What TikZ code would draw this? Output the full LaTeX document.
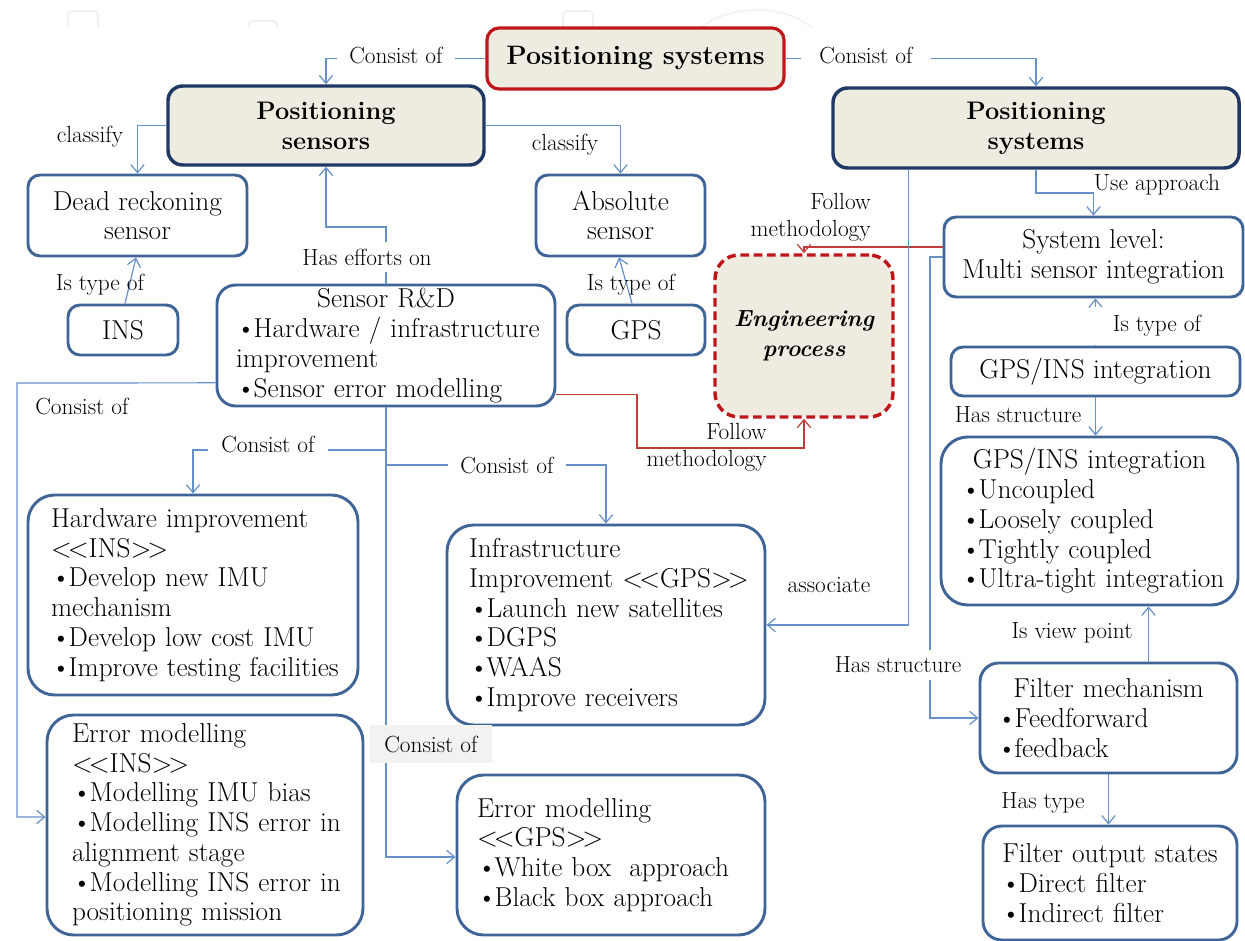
\documentclass[tikz,border=0pt]{standalone}
\usetikzlibrary{arrows.meta}
\definecolor{cblue}{HTML}{6690C8}
\definecolor{bborder}{HTML}{3F6497}
\definecolor{navy}{HTML}{1F3864}
\definecolor{beige}{HTML}{EEECE1}
\definecolor{cred}{HTML}{C0161B}
\definecolor{lred}{HTML}{C23A3A}
\definecolor{lgrey}{HTML}{F2F2F2}
\newcommand\bul{\textbullet\kern-1.5pt}
\newcommand\lguil{<\kern-3pt<}
\newcommand\rguil{>\kern-3pt>}
\begin{document}
\begin{tikzpicture}[x=0.75pt, y=-0.75pt,
  sbox/.style={draw=bborder, line width=2.2pt, rounded corners=9pt, fill=white, inner sep=0pt, align=center, font=\fontsize{20.5}{22.3}\selectfont},
  lbox/.style={sbox, rounded corners=20pt, align=left},
  headbox/.style={sbox, fill=beige, draw=navy, line width=2.6pt, rounded corners=11pt, font=\bfseries\fontsize{19}{22.5}\selectfont},
  titlebox/.style={sbox, fill=beige, draw=cred, line width=2.4pt, rounded corners=9pt, font=\bfseries\fontsize{20}{24}\selectfont},
  engbox/.style={sbox, fill=beige, draw=cred, line width=2.6pt, dash pattern=on 6.5pt off 3.5pt, rounded corners=18pt, font=\bfseries\itshape\fontsize{17.5}{22.5}\selectfont},
  conn/.style={draw=cblue, line width=0.9pt, -{Straight Barb[length=6pt,width=10pt]}},
  rconn/.style={draw=lred, line width=0.9pt, -{Straight Barb[length=6pt,width=10pt]}},
  lab/.style={font=\fontsize{17.5}{20}\selectfont, inner sep=1.5pt},
  labw/.style={lab, fill=white, inner xsep=6pt}
]
\useasboundingbox (0,0) rectangle (1245,941);

% faint background marks
\draw[gray!12, line width=1.5pt, rounded corners=3pt] (68,27) -- (68,11) -- (98,11) -- (98,27);
\draw[gray!12, line width=1.5pt, rounded corners=3pt] (249,27) -- (249,21) -- (277,21) -- (277,27);
\draw[gray!12, line width=1.5pt, rounded corners=3pt] (563,27) -- (563,11) -- (593,11) -- (593,27);
\draw[gray!10, line width=1.2pt] (700,28) .. controls (730,4) and (785,4) .. (812,28);

% ---------- boxes ----------
\node[titlebox, minimum width=222.75pt, minimum height=45.75pt] (title) at (635.5,58.5) {Positioning systems};
\node[headbox, minimum width=237pt, minimum height=59.25pt] (sens) at (326,125.5) {Positioning\\sensors};
\node[headbox, minimum width=304.5pt, minimum height=60pt] (psys) at (1036,128) {Positioning\\systems};
\node[sbox, minimum width=164.25pt, minimum height=60.75pt] (dr) at (137.5,215.5) {Dead reckoning\\sensor};
\node[sbox, minimum width=126.75pt, minimum height=60.75pt] (abs) at (620.5,215.5) {Absolute\\sensor};
\node[sbox, minimum width=82.5pt, minimum height=37.5pt] (ins) at (123,330) {INS};
\node[sbox, minimum width=103.5pt, minimum height=37.5pt] (gps) at (636,330) {GPS};
\node[sbox, rounded corners=14pt, align=left, text width=225pt, inner xsep=14.25pt, minimum width=253.5pt, minimum height=90.75pt] (rd) at (386,345.5)
  {\makebox[\linewidth]{Sensor R\&D}\\ \mbox{\bul Hardware / infrastructure}\\ \mbox{improvement}\\ \mbox{\bul Sensor error modelling}};
\node[engbox, minimum width=133.5pt, minimum height=121.5pt] (eng) at (804,336) {Engineering\\process};
\node[sbox, minimum width=224.25pt, minimum height=60pt] (sys) at (1093.5,257) {System level:\\Multi sensor integration};
\node[sbox, minimum width=216.75pt, minimum height=36.75pt] (gi1) at (1095.5,371.5) {GPS/INS integration};
\node[lbox, text width=192.75pt, inner xsep=15pt, minimum width=222.75pt, minimum height=126pt] (gi2) at (1089.5,521)
  {\makebox[\linewidth]{GPS/INS integration}\\ \mbox{\bul Uncoupled}\\ \mbox{\bul Loosely coupled}\\ \mbox{\bul Tightly coupled}\\ \mbox{\bul Ultra-tight integration}};
\node[sbox, rounded corners=14pt, align=left, text width=167.25pt, inner xsep=12.75pt, minimum width=192.75pt, minimum height=82.5pt] (fm) at (1108.5,718)
  {\makebox[\linewidth]{Filter mechanism}\\ \mbox{\bul Feedforward}\\ \mbox{\bul feedback}};
\node[sbox, rounded corners=14pt, align=left, text width=163.5pt, inner xsep=13.5pt, minimum width=190.5pt, minimum height=85.5pt] (fo) at (1110,883)
  {\makebox[\linewidth]{Filter output states}\\ \mbox{\bul Direct filter}\\ \mbox{\bul Indirect filter}};
\node[lbox, text width=213pt, inner xsep=17.25pt, minimum width=247.5pt, minimum height=150pt] (hw) at (193,595)
  {\mbox{Hardware improvement}\\ \mbox{\lguil INS\rguil}\\ \mbox{\bul Develop new IMU}\\ \mbox{mechanism}\\ \mbox{\bul Develop low cost IMU}\\ \mbox{\bul Improve testing facilities}};
\node[lbox, text width=199.5pt, inner xsep=18.75pt, minimum width=237pt, minimum height=165pt] (emi) at (205,825)
  {\mbox{Error modelling}\\ \mbox{\lguil INS\rguil}\\ \mbox{\bul Modelling IMU bias}\\ \mbox{\bul Modelling INS error in}\\ \mbox{alignment stage}\\ \mbox{\bul Modelling INS error in}\\ \mbox{positioning mission}};
\node[lbox, text width=205.5pt, inner xsep=16.5pt, minimum width=238.5pt, minimum height=150pt] (inf) at (606,625)
  {\mbox{Infrastructure}\\ \mbox{Improvement \lguil GPS\rguil}\\ \mbox{\bul Launch new satellites}\\ \mbox{\bul DGPS}\\ \mbox{\bul WAAS}\\ \mbox{\bul Improve receivers}};
\node[lbox, text width=201pt, inner xsep=15pt, minimum width=231pt, minimum height=120pt] (emg) at (611,855)
  {\mbox{Error modelling}\\ \mbox{\lguil GPS\rguil}\\ \mbox{\bul White box~~approach}\\ \mbox{\bul Black box approach}};

% ---------- bend coordinates ----------
\coordinate (b1) at (325,227);
\coordinate (c1) at (17,383);
\coordinate (c2) at (300,450);
\coordinate (c3) at (500,465);
\coordinate (c4) at (1060,193);
\coordinate (c5) at (930,500);
\coordinate (r1) at (637,448);

% ---------- connectors ----------
\draw[conn] (title.west) -| (sens.north);
\draw[conn] (title.east) -| (psys.north);
\draw[conn] (sens.west) -| (dr.north);
\draw[conn] (sens.east) -| (abs.north);
\draw[conn] ([xshift=1.5pt]ins.north) -- ([xshift=-1.1pt]dr.south);
\draw[conn] ([xshift=-3pt]gps.north) -- ([xshift=-1.1pt]abs.south);
\draw[conn] (rd.north) |- (b1) -| (sens.south);
\draw[conn] ([yshift=-28pt]rd.west) -- (c1) |- ([yshift=6pt]emi.west);
\draw[conn] (rd.south) |- (c2) -| (hw.north);
\draw[conn] (rd.south) |- (c3) -| (inf.north);
\draw[conn] (rd.south) |- ([yshift=-1.5pt]emg.west);
\draw[rconn] ([yshift=-36.5pt]rd.east) -| (r1) -| (eng.south);
\draw[rconn] ([yshift=7.5pt]sys.west) -| (eng.north);
\draw[conn] (psys.south) |- (c4) -| (sys.north);
\draw[conn] ([xshift=57.75pt]psys.south west) |- (inf.east);
\draw[conn] (sys.west) -| (c5) |- (fm.west);
\draw[conn] (gi1.north) -- (gi1.north |- sys.south);
\draw[conn] (gi1.south) -- (gi1.south |- gi2.north);
\draw[conn] ([xshift=30pt]fm.north) -- ([xshift=30pt]fm.north |- gi2.south);
\draw[conn] (fm.south) -- (fm.south |- fo.north);

% ---------- labels ----------
\node[labw, inner xsep=9pt] (l1) at (396,55) {Consist of};
\node[labw, inner xsep=14pt] (l2) at (866,55) {Consist of};
\node[lab] (l3) at (90,137) {classify};
\node[lab] (l4) at (565,145) {classify};
\node[lab] (l5) at (100,285) {Is type of};
\node[lab] (l6) at (631,285) {Is type of};
\node[labw, inner ysep=5pt] (l7) at (367,257) {Has efforts on};
\node[lab] (l8) at (82,406) {Consist of};
\node[labw, inner xsep=10pt] (l9) at (268,444) {Consist of};
\node[labw, inner xsep=9pt] (l10) at (507,465) {Consist of};
\node[lab, fill=lgrey, minimum width=91.5pt, minimum height=28.5pt] (l11) at (431,744) {Consist of};
\node[lab, align=right, anchor=east, font=\fontsize{17.5}{20}\selectfont] (l12) at (769,447) {Follow\\methodology};
\node[lab, align=right, anchor=east, font=\fontsize{17.5}{20}\selectfont] (l13) at (873,217) {Follow\\methodology};
\node[lab] (l14) at (1157,185) {Use approach};
\node[lab] (l15) at (829,585) {associate};
\node[labw, inner ysep=5pt, inner xsep=3pt] (l16) at (898,665) {Has structure};
\node[lab, fill=white, minimum width=97.5pt, minimum height=29pt] (l17) at (1157,326) {Is type of};
\node[lab] (l18) at (1018,415) {Has structure};
\node[lab] (l19) at (1072,633) {Is view point};
\node[lab] (l20) at (1043,803) {Has type};
\end{tikzpicture}
\end{document}
